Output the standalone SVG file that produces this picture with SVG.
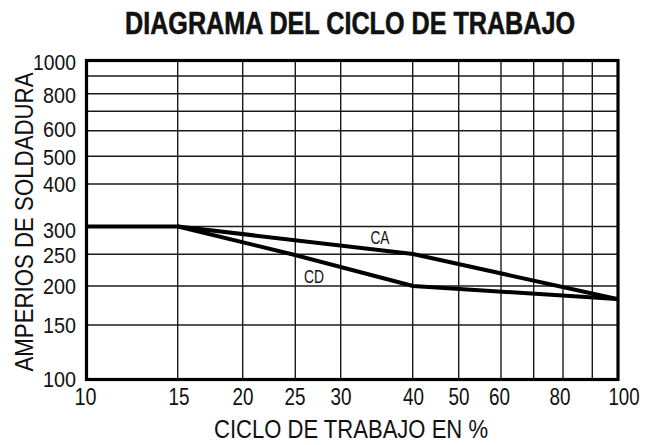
<svg xmlns="http://www.w3.org/2000/svg" width="645" height="445" viewBox="0 0 645 445">
<style>
text{font-family:"Liberation Sans Narrow","Liberation Sans",Arial,sans-serif;fill:#111}
.grid line{stroke:#1a1a1a;stroke-width:1.4}
.border{fill:none;stroke:#000;stroke-width:3.2}
.curve{fill:none;stroke:#000;stroke-width:4;stroke-linejoin:round;stroke-linecap:round}
.yl{font-size:22px;text-anchor:end}
.xl{font-size:24.5px;text-anchor:middle}
.lbl{font-size:18px;text-anchor:middle}
</style>
<rect width="645" height="445" fill="#fff"/>
<text transform="translate(350,33.5) scale(0.784,1)" x="0" y="0" font-size="32" font-weight="bold" text-anchor="middle" stroke="#111" stroke-width="0.6" textLength="574" lengthAdjust="spacingAndGlyphs">DIAGRAMA DEL CICLO DE TRABAJO</text>
<g id="grid" class="grid">
<line x1="87" y1="76" x2="617" y2="76"/>
<line x1="87" y1="93.7" x2="617" y2="93.7"/>
<line x1="87" y1="111.3" x2="617" y2="111.3"/>
<line x1="87" y1="130.7" x2="617" y2="130.7"/>
<line x1="87" y1="156.3" x2="617" y2="156.3"/>
<line x1="87" y1="184" x2="617" y2="184"/>
<line x1="87" y1="226.5" x2="617" y2="226.5"/>
<line x1="87" y1="254.3" x2="617" y2="254.3"/>
<line x1="87" y1="286" x2="617" y2="286"/>
<line x1="87" y1="325" x2="617" y2="325"/>
<line x1="177.7" y1="61" x2="177.7" y2="379"/>
<line x1="242.7" y1="61" x2="242.7" y2="379"/>
<line x1="295.3" y1="61" x2="295.3" y2="379"/>
<line x1="340.7" y1="61" x2="340.7" y2="379"/>
<line x1="412.7" y1="61" x2="412.7" y2="379"/>
<line x1="458.7" y1="61" x2="458.7" y2="379"/>
<line x1="501" y1="61" x2="501" y2="379"/>
<line x1="533.7" y1="61" x2="533.7" y2="379"/>
<line x1="563" y1="61" x2="563" y2="379"/>
<line x1="592.3" y1="61" x2="592.3" y2="379"/>
</g>
<rect class="border" x="86.5" y="60.5" width="531.5" height="319"/>
<g id="connectors">
<polyline id="ca" class="curve" points="87,226.5 178,226.5 413,254 617,299"/>
<polyline id="cd" class="curve" points="178,226.5 295,255 413,286 617,299"/>
</g>
<g id="labels">
<text class="lbl" x="380" y="244" textLength="19" lengthAdjust="spacingAndGlyphs">CA</text>
<text class="lbl" x="314" y="283" textLength="20" lengthAdjust="spacingAndGlyphs">CD</text>
</g>
<g id="y-axis">
<text class="yl" x="76" y="70" textLength="43" lengthAdjust="spacingAndGlyphs">1000</text>
<text class="yl" x="76" y="103" textLength="33" lengthAdjust="spacingAndGlyphs">800</text>
<text class="yl" x="76" y="137" textLength="33" lengthAdjust="spacingAndGlyphs">600</text>
<text class="yl" x="76" y="165" textLength="33" lengthAdjust="spacingAndGlyphs">500</text>
<text class="yl" x="76" y="192" textLength="33" lengthAdjust="spacingAndGlyphs">400</text>
<text class="yl" x="76" y="238" textLength="33" lengthAdjust="spacingAndGlyphs">300</text>
<text class="yl" x="76" y="263" textLength="33" lengthAdjust="spacingAndGlyphs">250</text>
<text class="yl" x="76" y="294" textLength="33" lengthAdjust="spacingAndGlyphs">200</text>
<text class="yl" x="76" y="333" textLength="33" lengthAdjust="spacingAndGlyphs">150</text>
<text class="yl" x="76" y="387" textLength="33" lengthAdjust="spacingAndGlyphs">100</text>
<text font-size="26" text-anchor="middle" transform="translate(33,222) rotate(-90)" textLength="299" lengthAdjust="spacingAndGlyphs">AMPERIOS DE SOLDADURA</text>
</g>
<g id="x-axis">
<text class="xl" x="85.5" y="405" textLength="22" lengthAdjust="spacingAndGlyphs">10</text>
<text class="xl" x="179" y="405" textLength="21" lengthAdjust="spacingAndGlyphs">15</text>
<text class="xl" x="243" y="405" textLength="21" lengthAdjust="spacingAndGlyphs">20</text>
<text class="xl" x="295" y="405" textLength="21" lengthAdjust="spacingAndGlyphs">25</text>
<text class="xl" x="341" y="405" textLength="21" lengthAdjust="spacingAndGlyphs">30</text>
<text class="xl" x="413.5" y="405" textLength="21" lengthAdjust="spacingAndGlyphs">40</text>
<text class="xl" x="459" y="405" textLength="21" lengthAdjust="spacingAndGlyphs">50</text>
<text class="xl" x="499.5" y="405" textLength="21" lengthAdjust="spacingAndGlyphs">60</text>
<text class="xl" x="560" y="405" textLength="21" lengthAdjust="spacingAndGlyphs">80</text>
<text class="xl" transform="translate(624,405) scale(0.76,1)" x="0" y="0" textLength="41" lengthAdjust="spacingAndGlyphs">100</text>
<text x="351" y="438" font-size="25" text-anchor="middle" textLength="274" lengthAdjust="spacingAndGlyphs">CICLO DE TRABAJO EN %</text>
</g>
</svg>
